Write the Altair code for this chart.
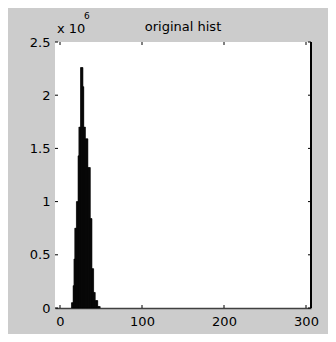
import altair as alt
import pandas as pd

# histogram bins (grey level) and counts
levels = list(range(14, 49))
counts = [
    50000, 50000, 210000, 460000, 750000, 750000, 1000000, 1000000,
    1430000, 1700000, 1700000, 2260000, 2260000, 2260000, 2080000,
    1700000, 1700000, 1590000, 1590000, 1590000, 1320000, 1320000,
    1320000, 840000, 840000, 370000, 370000, 146000, 146000, 70000,
    70000, 70000, 14000, 14000, 14000,
]
x_ticks = [0, 100, 200, 300]
y_ticks = [0, 500000, 1000000, 1500000, 2000000, 2500000]
title_text = ["original hist"]
exp_base = ["x 10"]
exp_power = ["6"]

W, H = 256, 266
FONT = "DejaVu Sans"

hist = pd.DataFrame({"lo": levels, "hi": [v + 1 for v in levels], "count": counts})
xs = alt.Scale(domain=[0, 300], nice=False)
ys = alt.Scale(domain=[0, 2500000], nice=False)
x_axis = alt.Axis(values=x_ticks, ticks=False, grid=False, title=None, labelPadding=7,
                  domainColor="#404040", domainWidth=1.5, labelFlush=False, format="d")
y_axis = alt.Axis(values=y_ticks, ticks=False, grid=False, domain=False, title=None,
                  labelPadding=5, labelFlush=False, labelExpr="'' + datum.value / 1000000")

bars = alt.Chart(hist).mark_bar(color="black", stroke="black", strokeWidth=0.6,
                                orient="vertical").encode(
    x=alt.X("lo:Q", scale=xs, axis=x_axis),
    x2="hi:Q",
    y=alt.Y("count:Q", scale=ys, axis=y_axis),
    y2=alt.datum(0),
)

xt = pd.DataFrame({"lo": x_ticks})
yt = pd.DataFrame({"count": y_ticks})
bottom_ticks = alt.Chart(xt).mark_rule(color="black", strokeWidth=1).encode(
    x=alt.X("lo:Q", scale=xs, axis=x_axis), y=alt.value(H), y2=alt.value(H - 3))
top_ticks = alt.Chart(xt).mark_rule(color="black", strokeWidth=1).encode(
    x=alt.X("lo:Q", scale=xs, axis=x_axis), y=alt.value(0), y2=alt.value(3))
left_ticks = alt.Chart(yt).mark_rule(color="black", strokeWidth=1).encode(
    y=alt.Y("count:Q", scale=ys, axis=y_axis), x=alt.value(0), x2=alt.value(3))
right_ticks = alt.Chart(yt).mark_rule(color="black", strokeWidth=1).encode(
    y=alt.Y("count:Q", scale=ys, axis=y_axis), x=alt.value(W), x2=alt.value(W - 3))
right_border = alt.Chart(pd.DataFrame({"a": [0]})).mark_rule(color="black", strokeWidth=2).encode(
    x=alt.value(W), y=alt.value(0), y2=alt.value(H))

title = alt.Chart(pd.DataFrame({"s": title_text})).mark_text(
    font=FONT, fontSize=13, align="center", baseline="alphabetic", color="black").encode(
    text="s:N", x=alt.value(W / 2), y=alt.value(-11))
exp1 = alt.Chart(pd.DataFrame({"s": exp_base})).mark_text(
    font=FONT, fontSize=13, align="left", baseline="alphabetic", color="black").encode(
    text="s:N", x=alt.value(2), y=alt.value(-9))
exp2 = alt.Chart(pd.DataFrame({"s": exp_power})).mark_text(
    font=FONT, fontSize=9, align="left", baseline="alphabetic", color="black").encode(
    text="s:N", x=alt.value(29), y=alt.value(-23))

chart = alt.layer(
    bars, bottom_ticks, top_ticks, left_ticks, right_ticks, right_border, title, exp1, exp2
).properties(
    width=W, height=H, background="#cccccc",
    padding={"left": 47, "top": 34, "right": 17, "bottom": 26},
    autosize=alt.AutoSizeParams(type="none"),
).configure_view(fill="white", strokeWidth=0).configure_axis(
    labelFont=FONT, labelFontSize=13, labelColor="black")

chart.save("out.html", embed_options={"renderer": "svg", "actions": False})
